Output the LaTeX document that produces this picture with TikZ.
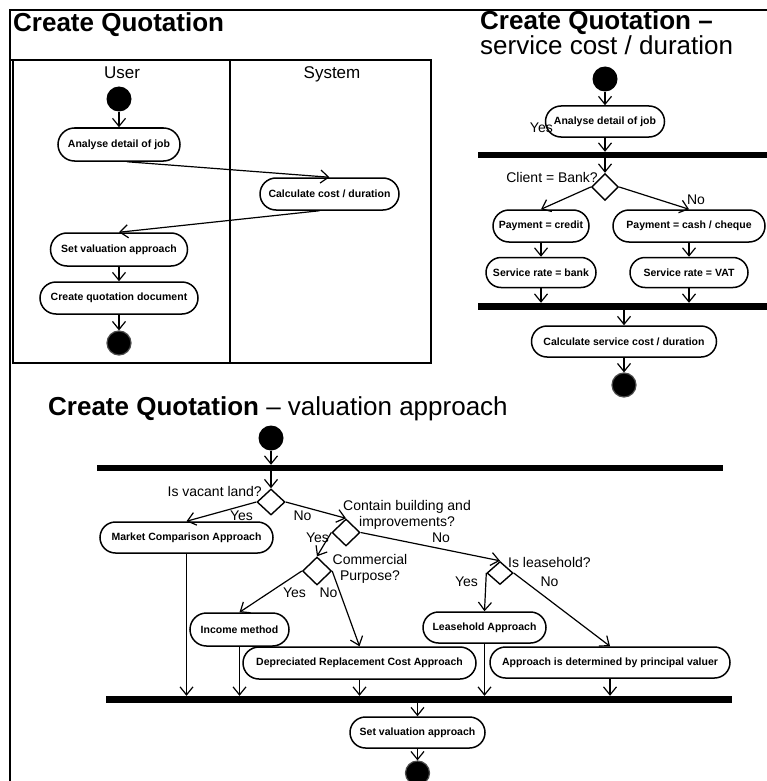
\documentclass[tikz,border=0pt]{standalone}
\usepackage{fontspec}
\setmainfont{Liberation Sans}
\usetikzlibrary{arrows.meta,shapes.geometric,shapes.misc}

\begin{document}
\begin{tikzpicture}[x=1pt,y=-1pt,
  act/.style={draw, line width=1.5pt, rounded rectangle, fill=white, inner sep=0pt,
              font=\fontsize{10.5}{12}\selectfont\bfseries},
  lab/.style={font=\fontsize{14}{16}\selectfont, inner sep=0pt},
  lane/.style={font=\fontsize{17}{20}\selectfont, inner sep=0pt, anchor=base},
  ttl/.style={font=\fontsize{26}{30}\selectfont, inner sep=0pt, anchor=base west},
  dec/.style={draw, line width=1.4pt, diamond, fill=white, inner sep=0pt},
  initial/.style={circle, fill=black, inner sep=0pt, minimum size=25pt},
  final/.style={circle, fill=black, draw=black!70, line width=1.2pt, inner sep=0pt, minimum size=24pt},
  syncbar/.style={rectangle, fill=black, inner sep=0pt},
  flow/.style={line width=1.2pt, -{Straight Barb[length=8pt,width=13pt]}},
  frame/.style={line width=1.5pt}
]
\useasboundingbox (0,0) rectangle (767,781);
\fill[white] (0,0) rectangle (767,781);

% ---------- outer frame ----------
\draw[frame] (10,781) -- (10,10) -- (767,10);

% ---------- Create Quotation (swimlanes) ----------
\node[ttl] (t1) at (13,32) {\bfseries Create Quotation};
\draw[frame] (13,60) rectangle (431,363);
\draw[frame] (10,60) -- (13,60);
\draw[frame] (230,60) -- (230,363);
\node[lane] (luser) at (122,79) {User};
\node[lane] (lsys) at (332,79) {System};

\node[initial] (st1) at (119,99) {};
\node[act, minimum width=122pt, minimum height=33pt] (a1) at (119,144.5) {Analyse detail of job};
\node[act, minimum width=139pt, minimum height=32pt] (c1) at (329.5,194) {Calculate cost / duration};
\node[act, minimum width=137pt, minimum height=33pt] (s1) at (119,249.5) {Set valuation approach};
\node[act, minimum width=158pt, minimum height=32pt] (q1) at (119,298) {Create quotation document};
\node[final] (en1) at (119,343) {};

\draw[flow] (st1) -- (a1.north);
\draw[flow] (a1.south) ++(8,0) -- (c1.north);
\draw[flow] (c1.south) ++(-10,0) -- (s1.north);
\draw[flow] (s1.south) -- (q1.north);
\draw[flow] (q1.south) -- (en1.north);

% ---------- Create Quotation - service cost / duration ----------
\node[ttl] (t2a) at (480,30) {\bfseries Create Quotation --};
\node[ttl] (t2b) at (480,55) {service cost / duration};

\node[initial] (st2) at (605,79) {};
\node[act, minimum width=119pt, minimum height=31pt] (a2) at (605,121.5) {Analyse detail of job};
\node[lab, anchor=east] (yes0) at (553,128) {Yes};
\node[syncbar, minimum width=289pt, minimum height=6pt] (bar1) at (622.5,155) {};
\node[dec, minimum width=27pt, minimum height=27pt] (d0) at (605,187) {};
\node[lab, anchor=east] (qbank) at (598,177) {Client = Bank?};
\node[act, minimum width=96pt, minimum height=32pt] (p1) at (541,226) {Payment = credit};
\node[act, minimum width=152pt, minimum height=32pt] (p2) at (689,226) {Payment = cash / cheque};
\node[lab] (no0) at (696,200) {No};
\node[act, minimum width=110pt, minimum height=30pt] (r1) at (541,272.5) {Service rate = bank};
\node[act, minimum width=118pt, minimum height=30pt] (r2) at (689,272.5) {Service rate = VAT};
\node[syncbar, minimum width=289pt, minimum height=7pt] (bar2) at (622.5,306.5) {};
\node[act, minimum width=185pt, minimum height=31pt] (c2) at (624,341.5) {Calculate service cost / duration};
\node[final] (en2) at (624,385) {};

\draw[flow] (st2) -- (a2.north);
\draw[flow] (a2.south) -- (a2.south |- bar1.north);
\draw[flow] (d0.north |- bar1.south) -- (d0.north);
\draw[flow] (d0.west) -- (p1.north);
\draw[flow] (d0.east) -- (p2.north);
\draw[flow] (p1.south) -- (r1.north);
\draw[flow] (p2.south) -- (r2.north);
\draw[flow] (r1.south) -- (r1.south |- bar2.north);
\draw[flow] (r2.south) -- (r2.south |- bar2.north);
\draw[flow] (c2.north |- bar2.south) -- (c2.north);
\draw[flow] (c2.south) -- (en2.north);

% ---------- Create Quotation - valuation approach ----------
\node[ttl] (t3) at (48,415) {\bfseries Create Quotation\mdseries{} -- valuation approach};

\node[initial] (st3) at (271,438) {};
\node[syncbar, minimum width=626pt, minimum height=6pt] (bar3) at (410,468) {};
\node[dec, minimum width=28pt, minimum height=26pt] (d1) at (271,502) {};
\node[lab, anchor=east] (qland) at (262,491) {Is vacant land?};
\node[act, minimum width=173pt, minimum height=31pt] (m1) at (186.5,537.5) {Market Comparison Approach};
\node[lab] (yes1) at (241.5,516) {Yes};
\node[lab] (no1) at (302.5,516) {No};

\node[dec, minimum width=28pt, minimum height=27pt] (d2) at (346,532.5) {};
\node[lab, align=center] (qbuild) at (407,515) {Contain building and\\improvements?};
\node[lab] (yes2) at (317.5,538) {Yes};
\node[lab] (no2) at (441,538) {No};

\node[dec, minimum width=29pt, minimum height=28pt] (d3) at (317,571) {};
\node[lab, align=center] (qcomm) at (370,569) {Commercial\\Purpose?};
\node[lab] (yes3) at (294.5,593) {Yes};
\node[lab] (no3) at (328.5,593) {No};

\node[dec, minimum width=26pt, minimum height=23pt] (d4) at (500,573) {};
\node[lab, anchor=west] (qlease) at (508,562) {Is leasehold?};
\node[lab] (yes4) at (466.5,582) {Yes};
\node[lab] (no4) at (549.5,582) {No};

\node[act, minimum width=99pt, minimum height=33pt] (im) at (239.5,629.5) {Income method};
\node[act, minimum width=233pt, minimum height=32pt] (drc) at (359.5,663) {Depreciated Replacement Cost Approach};
\node[act, minimum width=123pt, minimum height=31pt] (la) at (484.5,627.5) {Leasehold Approach};
\node[act, minimum width=240pt, minimum height=31pt] (ap) at (610,662.5) {Approach is determined by principal valuer};
\node[syncbar, minimum width=626pt, minimum height=7pt] (bar4) at (419,699.5) {};
\node[act, minimum width=135pt, minimum height=31pt] (sv) at (417.5,732.5) {Set valuation approach};
\node[final] (en3) at (417.5,773) {};

\draw[flow] (st3) -- (st3 |- bar3.north);
\draw[flow] (d1.north |- bar3.south) -- (d1.north);
\draw[flow] (d1.west) -- (m1.north);
\draw[flow] (d1.east) -- (d2.north);
\draw[flow] (d2.west) -- (d3.north);
\draw[flow] (d2.east) -- (d4.north);
\draw[flow] (d3.west) -- (im.north);
\draw[flow] (d3.east) -- (drc.north);
\draw[flow] (d4.west) -- (la.north);
\draw[flow] (d4.east) -- (ap.north);
\draw[flow] (m1.south) -- (m1.south |- bar4.north);
\draw[flow] (im.south) -- (im.south |- bar4.north);
\draw[flow] (drc.south) -- (drc.south |- bar4.north);
\draw[flow] (la.south) -- (la.south |- bar4.north);
\draw[flow] (ap.south) -- (ap.south |- bar4.north);
\draw[flow] (sv.north |- bar4.south) -- (sv.north);
\draw[flow] (sv.south) -- (en3.north);
\end{tikzpicture}
\end{document}
